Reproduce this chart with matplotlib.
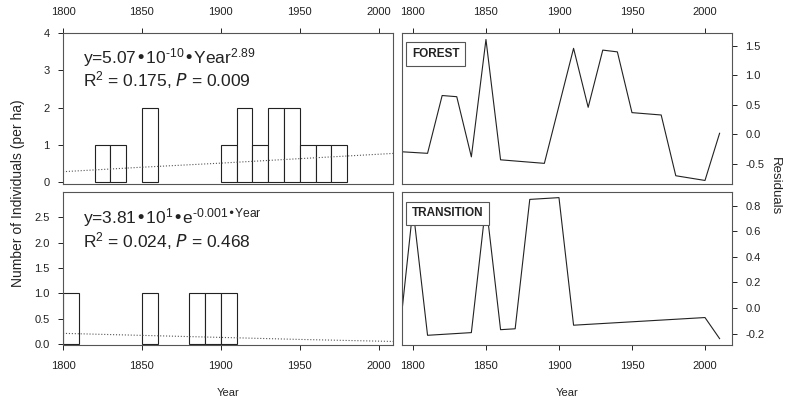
import matplotlib.pyplot as plt
import numpy as np

plt.rcParams['font.family'] = ['Liberation Sans', 'DejaVu Sans']
plt.rcParams['mathtext.default'] = 'regular'

# forest stand: individuals per ha in 10-year bins (bin start)
forest_bins = [1820, 1830, 1850, 1900, 1910, 1920, 1930, 1940, 1950, 1960, 1970]
forest_counts = [1, 1, 2, 1, 2, 1, 2, 2, 1, 1, 1]
forest_fit_year = [1800, 1850, 1900, 1950, 2009]
forest_fit_val = [0.28, 0.40, 0.51, 0.63, 0.77]

# transition stand
trans_bins = [1800, 1850, 1880, 1890, 1900]
trans_counts = [1, 1, 1, 1, 1]
trans_fit_year = [1800, 1850, 1900, 1950, 2009]
trans_fit_val = [0.21, 0.17, 0.13, 0.09, 0.05]

# residuals
forest_res_year = [1790, 1810, 1820, 1830, 1840, 1850, 1860, 1890, 1910, 1920,
                   1930, 1940, 1950, 1970, 1980, 2000, 2010]
forest_res = [-0.29, -0.32, 0.66, 0.64, -0.38, 1.61, -0.43, -0.49, 1.46, 0.46,
              1.43, 1.40, 0.37, 0.33, -0.70, -0.78, 0.02]
trans_res_year = [1790, 1800, 1810, 1840, 1850, 1860, 1870, 1880, 1900, 1910, 2000, 2010]
trans_res = [-0.29, 0.78, -0.214, -0.193, 0.82, -0.17, -0.163, 0.85, 0.864, -0.135, -0.075, -0.24]

W, H = 785, 403
fig = plt.figure(figsize=(7.85, 4.03), dpi=100)

def box(l, r, t, b):
    return [l / W, 1 - b / H, (r - l) / W, (b - t) / H]

ax1 = fig.add_axes(box(63, 393, 33, 184))
ax2 = fig.add_axes(box(63, 393, 192, 345))
ax3 = fig.add_axes(box(402, 732, 33, 184))
ax4 = fig.add_axes(box(402, 732, 192, 345))

txt = '#222222'
for ax in (ax1, ax2, ax3, ax4):
    for s in ax.spines.values():
        s.set_color('#555555')
        s.set_linewidth(0.8)
    ax.tick_params(labelsize=8, colors=txt, length=3.5, width=0.7, direction='out')
    ax.tick_params(axis='x', pad=8)
    ax.tick_params(axis='y', pad=6)
    ax.set_xticks([1800, 1850, 1900, 1950, 2000])

# left panels
ax1.bar(forest_bins, forest_counts, width=10, align='edge', color='white',
        edgecolor='#222222', linewidth=0.8)
ax1.plot(forest_fit_year, forest_fit_val, ls=':', color='#555555', lw=0.8)
ax1.set_xlim(1800, 2009)
ax1.set_ylim(-0.05, 4)
ax1.set_yticks([0, 1, 2, 3, 4])
ax1.xaxis.tick_top()
ax1.text(0.06, 0.835, 'y=5.07•10$^{‐10}$•Year$^{2.89}$', transform=ax1.transAxes,
         fontsize=12.5, color=txt, va='center')
ax1.text(0.06, 0.69, 'R$^2$ = 0.175, $\\mathit{P}$ = 0.009', transform=ax1.transAxes,
         fontsize=12.5, color=txt, va='center')

ax2.bar(trans_bins, trans_counts, width=10, align='edge', color='white',
        edgecolor='#222222', linewidth=0.8)
ax2.plot(trans_fit_year, trans_fit_val, ls=':', color='#555555', lw=0.8)
ax2.set_xlim(1800, 2009)
ax2.set_ylim(-0.02, 3.0)
ax2.set_yticks([0.0, 0.5, 1.0, 1.5, 2.0, 2.5])
ax2.set_yticklabels(['0.0', '0.5', '1.0', '1.5', '2.0', '2.5'])
ax2.text(0.06, 0.83, 'y=3.81•10$^{1}$•e$^{‐0.001•Year}$', transform=ax2.transAxes,
         fontsize=12.5, color=txt, va='center')
ax2.text(0.06, 0.68, 'R$^2$ = 0.024, $\\mathit{P}$ = 0.468', transform=ax2.transAxes,
         fontsize=12.5, color=txt, va='center')
ax2.set_xlabel('Year', fontsize=8, color=txt, labelpad=12)

# right panels
ax3.plot(forest_res_year, forest_res, color='#222222', lw=0.8)
ax3.set_xlim(1792.5, 2018.5)
ax3.set_ylim(-0.84, 1.72)
ax3.set_yticks([-0.5, 0.0, 0.5, 1.0, 1.5])
ax3.set_yticklabels(['-0.5', '0.0', '0.5', '1.0', '1.5'])
ax3.xaxis.tick_top()
ax3.yaxis.tick_right()
ax3.text(0.03, 0.86, 'FOREST', transform=ax3.transAxes, fontsize=8.5,
         fontweight='bold', color=txt, va='center',
         bbox=dict(boxstyle='square,pad=0.5', fc='white', ec='#555555', lw=0.8))

ax4.plot(trans_res_year, trans_res, color='#222222', lw=0.8)
ax4.set_xlim(1792.5, 2018.5)
ax4.set_ylim(-0.29, 0.908)
ax4.set_yticks([-0.2, 0.0, 0.2, 0.4, 0.6, 0.8])
ax4.set_yticklabels(['-0.2', '0.0', '0.2', '0.4', '0.6', '0.8'])
ax4.yaxis.tick_right()
ax4.text(0.03, 0.86, 'TRANSITION', transform=ax4.transAxes, fontsize=8.5,
         fontweight='bold', color=txt, va='center', zorder=5,
         bbox=dict(boxstyle='square,pad=0.5', fc='white', ec='#555555', lw=0.8))
ax4.set_xlabel('Year', fontsize=8, color=txt, labelpad=12)

fig.text(18 / W, 1 - 193 / H, 'Number of Individuals (per ha)', rotation=90,
         fontsize=10, color=txt, ha='center', va='center')
fig.text(775 / W, 1 - 186 / H, 'Residuals', rotation=270,
         fontsize=9.5, color=txt, ha='center', va='center')

fig.savefig('out.png', dpi=100)
